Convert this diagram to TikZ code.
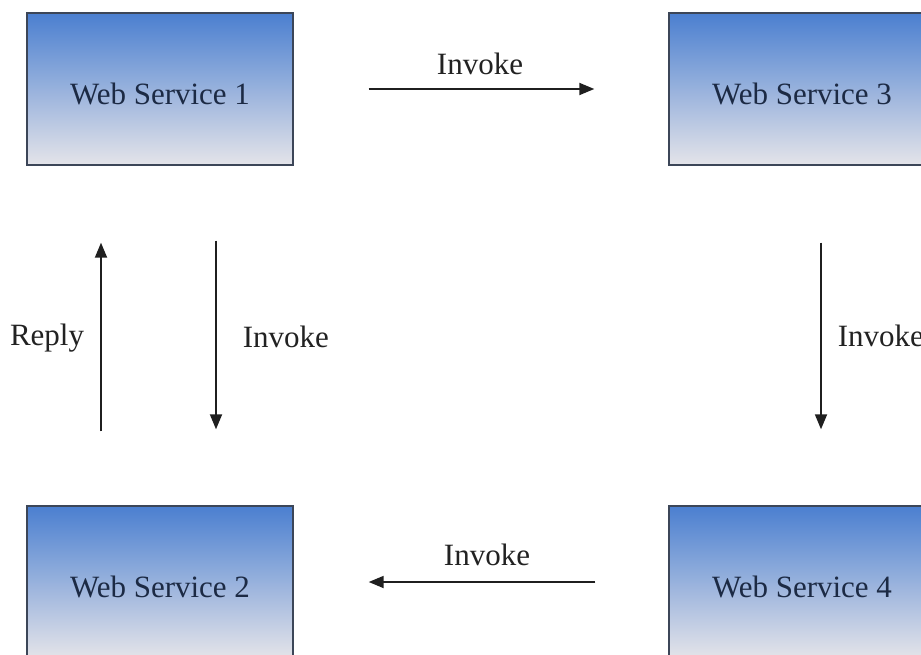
\documentclass[tikz,border=0pt]{standalone}
\usepackage{fontspec}
\setmainfont{Liberation Serif}
\usetikzlibrary{arrows.meta,calc}

\definecolor{wsTop}{HTML}{4B7FD0}
\definecolor{wsBottom}{HTML}{E4E4E9}
\definecolor{wsEdge}{HTML}{3C4658}
\definecolor{wsText}{HTML}{1C2A44}
\definecolor{lblText}{HTML}{222222}

\newcommand{\wslabel}[1]{\raisebox{-5pt}[\height][\depth]{#1}}

\tikzset{
  service/.style={rectangle, draw=wsEdge, line width=1.4pt,
    top color=wsTop, bottom color=wsBottom,
    minimum width=266pt, minimum height=152pt, inner sep=0pt,
    text=wsText, font=\fontsize{31}{36}\selectfont},
  flow/.style={draw=black!88, line width=1.8pt,
    -{Triangle[length=15pt,width=12pt]}},
  lbl/.style={text=lblText, font=\fontsize{31}{36}\selectfont, inner sep=0pt}
}

\begin{document}
\begin{tikzpicture}[x=1pt,y=-1pt]
  \useasboundingbox (0,0) rectangle (921,655);
  \clip (0,0) rectangle (921,655);
  \fill[white] (0,0) rectangle (921,655);

  % the four services
  \node[service] (ws1) at (160,89)  {\wslabel{Web Service 1}};
  \node[service] (ws3) at (802,89)  {\wslabel{Web Service 3}};
  \node[service] (ws2) at (160,582) {\wslabel{Web Service 2}};
  \node[service] (ws4) at (802,582) {\wslabel{Web Service 4}};

  % 1 -> 3
  \draw[flow, shorten <=75pt, shorten >=74pt] (ws1.east) -- (ws3.west)
    node[lbl, midway, anchor=base, yshift=14pt, xshift=-1pt] {Invoke};

  % 3 -> 4
  \draw[flow, shorten <=77pt, shorten >=76pt]
    ([xshift=19pt]ws3.south) -- ([xshift=19pt]ws4.north)
    node[lbl, midway, anchor=base west, xshift=16pt, yshift=-11pt] {Invoke};

  % 4 -> 2
  \draw[flow, shorten <=73pt, shorten >=75pt] (ws4.west) -- (ws2.east)
    node[lbl, midway, anchor=base, yshift=17pt, xshift=6pt] {Invoke};

  % 1 -> 2
  \draw[flow, shorten <=75pt, shorten >=76pt]
    ([xshift=56pt]ws1.south) -- ([xshift=56pt]ws2.north)
    node[lbl, midway, anchor=base west, xshift=26pt, yshift=-12pt] {Invoke};

  % 2 -> 1
  \draw[flow, shorten <=74pt, shorten >=77pt]
    ([xshift=-59pt]ws2.north) -- ([xshift=-59pt]ws1.south)
    node[lbl, midway, anchor=base east, xshift=-16pt, yshift=-10pt] {Reply};
\end{tikzpicture}
\end{document}
